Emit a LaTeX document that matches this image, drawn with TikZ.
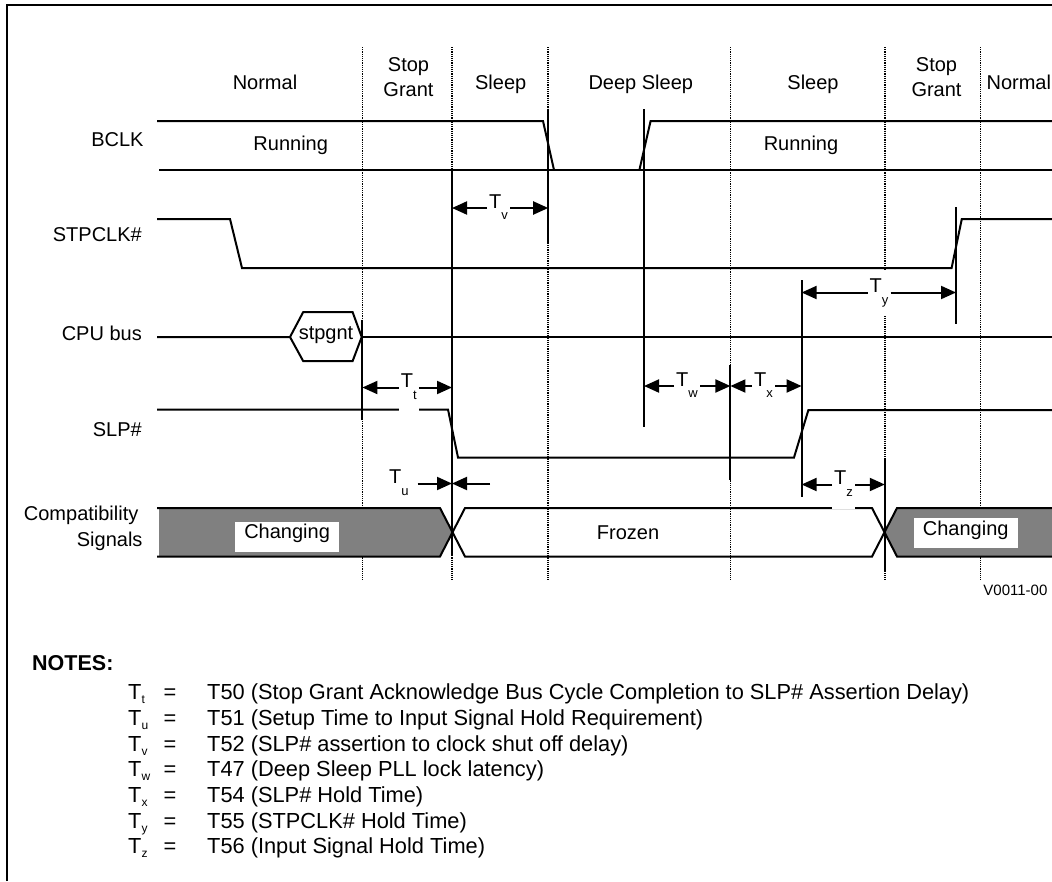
\documentclass[tikz,border=0pt]{standalone}
\usepackage{fontspec}
\setmainfont{Liberation Sans}
\usetikzlibrary{arrows.meta}
\newcommand{\sz}[1]{\fontsize{#1}{#1}\selectfont}
\newcommand{\Tlab}[1]{T\raisebox{-11.5pt}{\sz{13}#1}}
\newcommand{\Tnote}[1]{T\raisebox{-4pt}{\sz{12}#1}}
\begin{document}
\begin{tikzpicture}[x=1pt,y=-1pt,
  sig/.style={line width=2pt, line join=miter},
  gridline/.style={line width=1.8pt, dash pattern=on 1.2pt off 1pt},
  vmark/.style={line width=2pt},
  dimarrow/.style={line width=2pt, -{Triangle[length=15pt,width=13pt]}},
  tlab/.style={anchor=base west, font=\sz{20}, inner xsep=2pt, inner ysep=0pt, text height=23pt, text depth=23pt, fill=white},
  lab/.style={anchor=base, font=\sz{20}, inner sep=0pt},
  rlab/.style={anchor=base east, font=\sz{20}, inner sep=0pt},
  notetext/.style={anchor=base west, font=\sz{21.8}, inner sep=0pt},
  chgbox/.style={anchor=base, font=\sz{20}, inner sep=0pt, fill=white, minimum width=104pt},
]
\useasboundingbox (0,0) rectangle (1052,881);
% frame
\draw[line width=2.2pt] (7,881) -- (7,5) -- (1052,5);

% dotted state boundaries
\foreach \x in {362.4,452,548.2,730.4,884.8,980.5}
  \draw[gridline] (\x,47) -- (\x,580);

% state labels
\node[lab] (n1) at (265,89.6) {Normal};
\node[lab] (sg1a) at (408.5,71) {Stop};
\node[lab] (sg1b) at (408.5,96.3) {Grant};
\node[lab] (sl1) at (500.7,89.6) {Sleep};
\node[lab] (ds) at (640.8,89.6) {Deep Sleep};
\node[lab] (sl2) at (813,89.6) {Sleep};
\node[lab] (sg2a) at (936.5,71) {Stop};
\node[lab] (sg2b) at (936.5,96.3) {Grant};
\node[lab] (n2) at (1018.8,89.6) {Normal};

% signal names
\node[rlab] (lbclk) at (143.7,146) {BCLK};
\node[rlab] (lstp) at (142,241.7) {STPCLK\#};
\node[rlab] (lcpu) at (142,340) {CPU bus};
\node[rlab] (lslp) at (142,436) {SLP\#};
\node[rlab] (lcomp) at (138.6,520.5) {Compatibility};
\node[rlab] (lsig) at (142.7,546) {Signals};

% BCLK
\draw[sig] (157,121) -- (543,121) -- (554,170);
\draw[sig] (639.4,170) -- (650.6,121) -- (1052,121);
\draw[sig] (159,170) -- (1052,170);
\node[lab] (run1) at (290.7,150) {Running};
\node[lab] (run2) at (801,150) {Running};

% STPCLK#
\draw[sig] (157,219) -- (230,219) -- (242,268) -- (951.6,268) -- (961.8,219) -- (1052,219);

% CPU bus
\draw[sig] (157,337) -- (290,337) -- (303.2,312.1) -- (352.6,312.1) -- (361.7,337) -- (352.6,361.1) -- (303.2,361.1) -- (290,337);
\draw[sig] (361.7,337) -- (1052,337);
\node[lab] (stpgnt) at (326,339) {stpgnt};

% SLP#
\draw[sig] (157,409.5) -- (448,409.5) -- (458,457.5) -- (794,457.5) -- (808.4,410) -- (1052,410);

% Compatibility signals
\fill[black!50] (159,508) -- (440,508) -- (452.5,532.25) -- (440,556.5) -- (159,556.5) -- cycle;
\fill[black!50] (897,508) -- (1052,508) -- (1052,556.5) -- (897,556.5) -- (884.5,532.25) -- cycle;
\draw[sig] (157,508) -- (440,508) -- (465,556.5) -- (872,556.5) -- (897,508) -- (1052,508);
\draw[sig] (157,556.5) -- (440,556.5) -- (465,508) -- (872,508) -- (897,556.5) -- (1052,556.5);
\node[chgbox, text height=16.3pt, text depth=13.5pt] (chg1) at (287.1,538) {Changing};
\node[chgbox, text height=17pt, text depth=13pt] (chg2) at (965.7,535) {Changing};
\node[lab] (frz) at (628,539.6) {Frozen};

% solid timing markers
\draw[vmark] (362.4,320) -- (362.4,420);
\draw[vmark] (452,170) -- (452,556);
\draw[vmark] (548.2,108.6) -- (548.2,244);
\draw[vmark] (644,109) -- (644,426.6);
\draw[vmark] (730.4,365) -- (730.4,480);
\draw[vmark] (801.6,280) -- (801.6,497);
\draw[vmark] (884.8,458) -- (884.8,572);
\draw[vmark] (956,207) -- (956,324);

% end points of the timing arrows
\coordinate (tvL) at (452,208);   \coordinate (tvR) at (548.2,208);
\coordinate (ttL) at (362.4,387.5); \coordinate (ttR) at (452,387.5);
\coordinate (twL) at (644,386);   \coordinate (twR) at (730.4,386);
\coordinate (txL) at (730.4,386); \coordinate (txR) at (801.6,386);
\coordinate (tyL) at (801.6,292.5); \coordinate (tyR) at (956,292.5);
\coordinate (tzL) at (801.6,484.5); \coordinate (tzR) at (884.8,484.5);
\coordinate (tuA) at (417.5,483.5); \coordinate (tuB) at (490,483.5); \coordinate (tuM) at (452,483.5);

% timing labels
\node[tlab] (tv) at (487,208) {\Tlab{v}};
\node[tlab] (tt) at (398.6,387.5) {\Tlab{t}};
\node[tlab] (tw) at (674,386) {\Tlab{w}};
\node[tlab] (tx) at (752,386) {\Tlab{x}};
\node[tlab] (ty) at (867.5,292.5) {\Tlab{y}};
\node[tlab, text depth=24.5pt] (tz) at (832,484.5) {\Tlab{z}};
\node[tlab, fill=none] (tu) at (387,483.5) {\Tlab{u}};

% timing arrows
\draw[dimarrow] (tv.base west) -- (tvL);
\draw[dimarrow] (tv.base east) -- (tvR);
\draw[dimarrow] (tt.base west) -- (ttL);
\draw[dimarrow] (tt.base east) -- (ttR);
\draw[dimarrow] (tw.base west) -- (twL);
\draw[dimarrow] (tw.base east) -- (twR);
\draw[dimarrow] (tx.base west) -- (txL);
\draw[dimarrow] (tx.base east) -- (txR);
\draw[dimarrow] (ty.base west) -- (tyL);
\draw[dimarrow] (ty.base east) -- (tyR);
\draw[dimarrow] (tz.base west) -- (tzL);
\draw[dimarrow] (tz.base east) -- (tzR);
\draw[dimarrow] (tuA) -- (tuM);
\draw[dimarrow] (tuB) -- (tuM);

% figure id
\node[anchor=base east, font=\sz{15}, inner sep=0pt] (vid) at (1047.6,595.5) {V0011-00};

% notes
\node[notetext, font=\sz{21.5}\bfseries] (notes) at (32,670.7) {NOTES:};
\foreach \s/\txt [count=\i from 0] in {t/T50 (Stop Grant Acknowledge Bus Cycle Completion to SLP\# Assertion Delay),
  u/T51 (Setup Time to Input Signal Hold Requirement),
  v/T52 (SLP\# assertion to clock shut off delay),
  w/T47 (Deep Sleep PLL lock latency),
  x/T54 (SLP\# Hold Time),
  y/T55 (STPCLK\# Hold Time),
  z/T56 (Input Signal Hold Time)} {
  \node[notetext] (nsym\i) at (128,699.7+25.7*\i) {\Tnote{\s}};
  \node[anchor=base, font=\sz{21.8}, inner sep=0pt] (neq\i) at (170,699.7+25.7*\i) {=};
  \node[notetext] (ntxt\i) at (207,699.7+25.7*\i) {\txt};
}
\end{tikzpicture}
\end{document}
